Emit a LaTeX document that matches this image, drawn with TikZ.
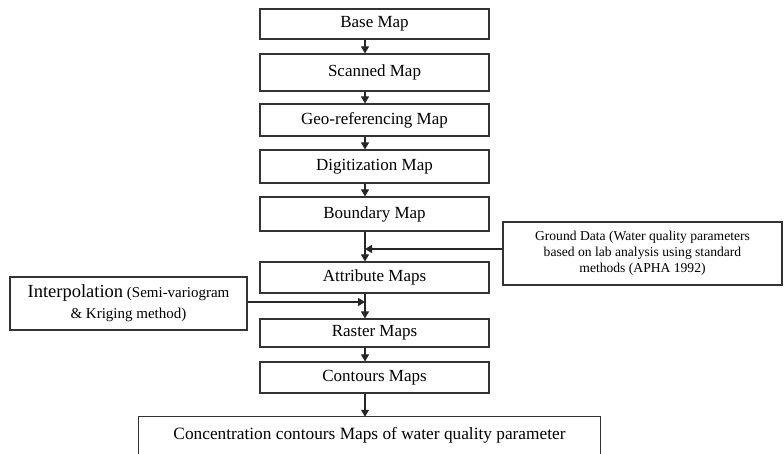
\documentclass[tikz,border=0pt]{standalone}
\usepackage{fontspec}
\setmainfont{Liberation Serif}
\usetikzlibrary{arrows.meta}
\begin{document}
\begin{tikzpicture}[x=1bp,y=-1bp,
  box/.style={draw=black!80,line width=1.1bp,inner sep=0pt,align=center,font=\fontsize{17bp}{19bp}\selectfont},
  flow/.style={draw=black!85,line width=1.1bp,-{Triangle[length=7bp,width=8bp]}}]
\useasboundingbox (0,0) rectangle (784,454);
\node[box,minimum width=229bp,minimum height=30bp] (base) at (374.5,24) {Base Map};
\node[box,minimum width=229bp,minimum height=37bp] (scan) at (374.5,72.5) {Scanned Map};
\node[box,minimum width=229bp,minimum height=32bp] (geo) at (374.5,120) {Geo-referencing Map};
\node[box,minimum width=229bp,minimum height=33bp] (dig) at (374.5,166.5) {Digitization Map};
\node[box,minimum width=229bp,minimum height=34bp] (bnd) at (374.5,214) {Boundary Map};
\node[box,minimum width=229bp,minimum height=31bp] (att) at (374.5,277.5) {Attribute Maps};
\node[box,minimum width=229bp,minimum height=28bp] (ras) at (374.5,333) {Raster Maps};
\node[box,minimum width=229bp,minimum height=31bp] (con) at (374.5,377.5) {Contours Maps};
\node[inner sep=0pt,minimum width=461bp,minimum height=37bp,font=\fontsize{17.3bp}{19bp}\selectfont] (conc) at (369.5,435.5) {\raisebox{3bp}{Concentration contours Maps of water quality parameter}};
\draw[black!80,line width=1.3bp] (conc.south west) -- (conc.north west) -- (conc.north east) -- (conc.south east);
\node[box,minimum width=279bp,minimum height=63bp,font=\fontsize{13.6bp}{16bp}\selectfont] (gd) at (642.5,253.5) {Ground Data (Water quality parameters\\based on lab analysis using standard\\methods (APHA 1992)};
\node[box,minimum width=237bp,minimum height=53bp,font=\fontsize{15bp}{21bp}\selectfont] (ip) at (128.5,303.5) {{\fontsize{18.5bp}{21bp}\selectfont Interpolation} (Semi-variogram\\\& Kriging method)};
\coordinate (gdj) at (365,249);
\coordinate (ipj) at (365,302);
\foreach \a/\b in {base/scan,scan/geo,geo/dig,dig/bnd,bnd/att,att/ras,ras/con,con/conc}
  \draw[flow] (\a.south -| 365,0) -- (\b.north -| 365,0);
\draw[flow] (gd.west |- gdj) -- (gdj);
\draw[flow] (ip.east |- ipj) -- (ipj);
\end{tikzpicture}
\end{document}
